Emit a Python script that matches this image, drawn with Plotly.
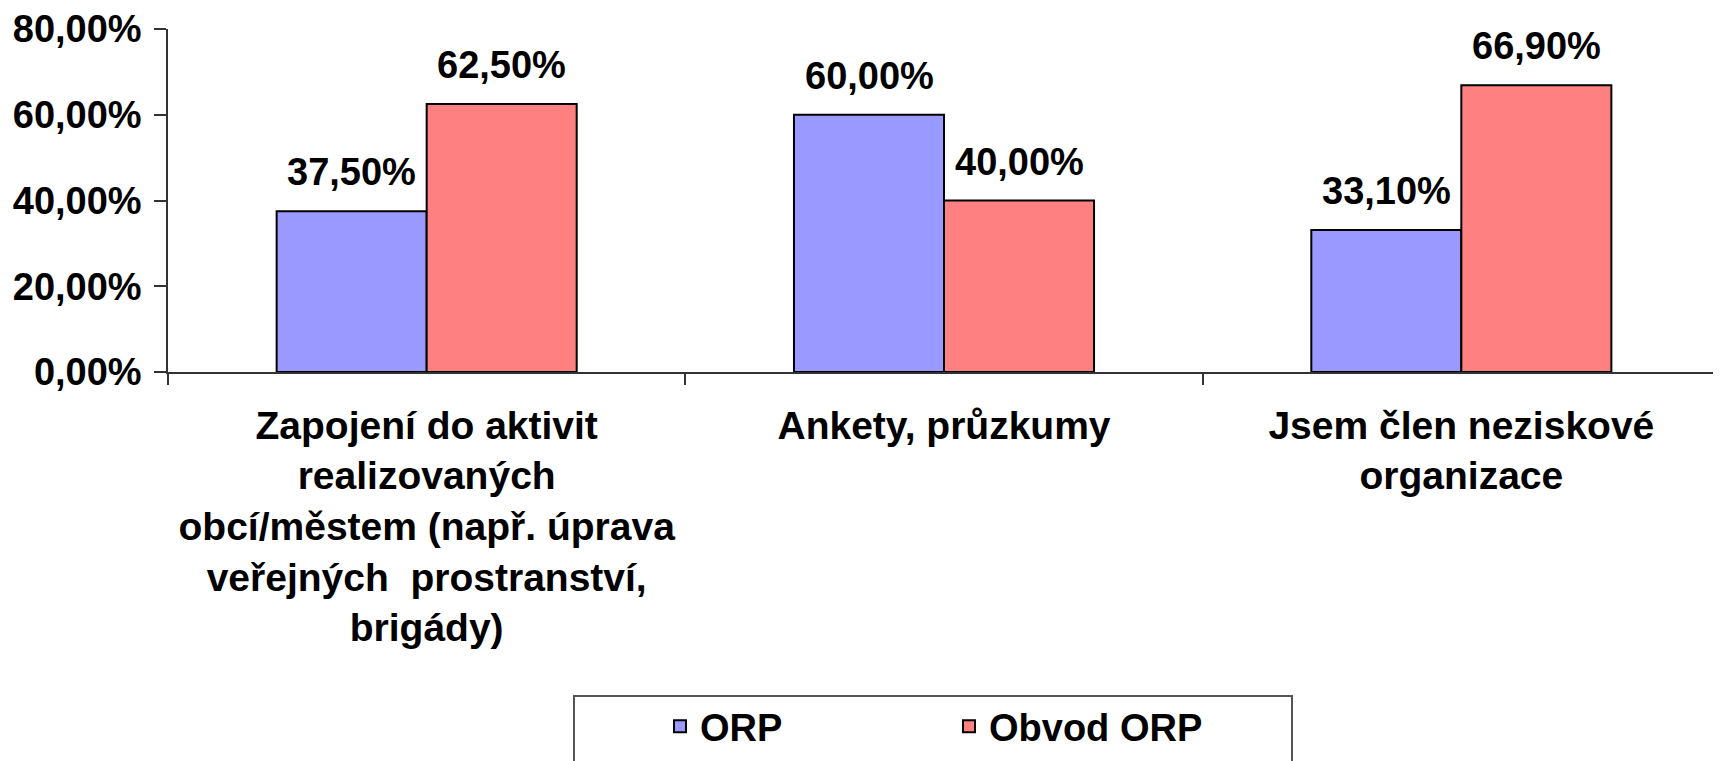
import plotly.graph_objects as go

categories = [
    "Zapojení do aktivit<br>realizovaných<br>obcí/městem (např. úprava<br>veřejných  prostranství,<br>brigády)",
    "Ankety, průzkumy",
    "Jsem člen neziskové<br>organizace",
]
orp = [37.5, 60.0, 33.1]
obvod_orp = [62.5, 40.0, 66.9]
series_names = ["ORP", "Obvod ORP"]
y_ticks = [0, 20, 40, 60, 80]

FONT = "Liberation Sans, Arial, sans-serif"
FS = 38
W, H = 1721, 761
OFF = 8  # page body margin shifts the figure by this much in the photo
# target positions in the photographed page
PLOT_L, PLOT_R, PLOT_T, PLOT_B = 168, 1720, 29, 372
L = PLOT_L - OFF
T = PLOT_T - OFF
R = W - (PLOT_R - OFF)
B = H - (PLOT_B - OFF)
PW = W - L - R
PH = H - T - B

def fmt(v):
    return f"{v:.2f}%".replace(".", ",")

def px_x(p):
    return (p - OFF - L) / PW

def px_y(p):
    return (H - B - (p - OFF)) / PH

fig = go.Figure()
fig.add_trace(go.Bar(x=categories, y=orp, name=series_names[0],
                     marker=dict(color="#9999FF", line=dict(color="black", width=2))))
fig.add_trace(go.Bar(x=categories, y=obvod_orp, name=series_names[1],
                     marker=dict(color="#FF8080", line=dict(color="black", width=2))))

annotations = []
for vals, shift in ((orp, -75), (obvod_orp, 75)):
    for c, v in zip(categories, vals):
        annotations.append(dict(
            x=c, y=v, xref="x", yref="y", text=fmt(v),
            showarrow=False, xshift=shift, yanchor="bottom", yshift=16,
            font=dict(family=FONT, size=FS, color="black", weight="bold"),
        ))

fig.update_layout(
    width=W, height=H,
    margin=dict(l=L, r=R, t=T, b=B, pad=0, autoexpand=False),
    paper_bgcolor="white", plot_bgcolor="white",
    barmode="group", bargap=0.42, bargroupgap=0,
    font=dict(family=FONT, size=FS, color="black", weight="bold"),
    annotations=annotations,
    showlegend=True,
    legend=dict(orientation="h", xref="container", yref="container",
                x=(660 - OFF) / W, y=1 - (695 - OFF) / H, xanchor="left", yanchor="top",
                bgcolor="rgba(0,0,0,0)", borderwidth=0,
                font=dict(family=FONT, size=FS, color="black", weight="bold"),
                entrywidth=244, traceorder="normal"),
    shapes=[dict(type="rect", xref="paper", yref="paper",
                 x0=px_x(574), x1=px_x(1292), y0=px_y(696), y1=px_y(820),
                 line=dict(color="#555555", width=2), fillcolor="rgba(0,0,0,0)", layer="below")],
)
fig.update_yaxes(range=[0, 80], tickvals=y_ticks, ticktext=[fmt(v) for v in y_ticks],
                 showgrid=False, zeroline=False, showline=True, linecolor="#333333", linewidth=1.5,
                 ticks="outside", ticklen=12, tickcolor="#333333", tickwidth=1.5,
                 tickfont=dict(family=FONT, size=FS, color="black", weight="bold"),
                 ticklabelstandoff=5)
fig.update_xaxes(showgrid=False, showline=True, linecolor="#333333", linewidth=1.5,
                 ticks="outside", tickson="boundaries", ticklen=11, tickcolor="#333333", tickwidth=1.5,
                 tickfont=dict(family=FONT, size=39, color="black", weight="bold"),
                 ticklabelstandoff=18, tickangle=0)

fig.write_html("out.html")
